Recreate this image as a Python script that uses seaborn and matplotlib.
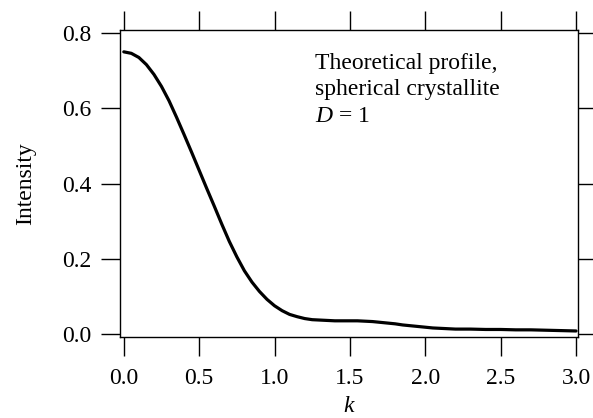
import matplotlib
matplotlib.use("Agg")
import matplotlib.pyplot as plt
import seaborn as sns
import pandas as pd

k_values = [0.00, 0.05, 0.10, 0.15, 0.20, 0.25, 0.30, 0.35, 0.40, 0.45,
            0.50, 0.55, 0.60, 0.65, 0.70, 0.75, 0.80, 0.85, 0.90, 0.95,
            1.00, 1.05, 1.10, 1.15, 1.20, 1.25, 1.30, 1.35, 1.40, 1.45,
            1.50, 1.55, 1.60, 1.65, 1.70, 1.75, 1.80, 1.85, 1.90, 1.95,
            2.00, 2.05, 2.10, 2.15, 2.20, 2.30, 2.40, 2.50, 2.60, 2.70,
            2.80, 2.90, 3.00]
intensity = [0.750, 0.746, 0.735, 0.716, 0.690, 0.658, 0.620, 0.576, 0.530, 0.483,
             0.435, 0.387, 0.340, 0.292, 0.246, 0.205, 0.168, 0.138, 0.113, 0.092,
             0.075, 0.062, 0.052, 0.046, 0.041, 0.038, 0.037, 0.036, 0.035, 0.035,
             0.035, 0.035, 0.034, 0.033, 0.031, 0.029, 0.027, 0.024, 0.022, 0.020,
             0.018, 0.016, 0.015, 0.014, 0.013, 0.013, 0.012, 0.012, 0.011, 0.011,
             0.010, 0.009, 0.008]
x_ticks = [0.0, 0.5, 1.0, 1.5, 2.0, 2.5, 3.0]
y_ticks = [0.0, 0.2, 0.4, 0.6, 0.8]
annotation = "Theoretical profile,\nspherical crystallite\n$D$ = 1"

sns.set_style("ticks")
plt.rcParams['font.family'] = ['Liberation Serif', 'DejaVu Serif']
plt.rcParams['mathtext.fontset'] = 'custom'
plt.rcParams['mathtext.it'] = 'Liberation Serif:italic'
plt.rcParams['mathtext.rm'] = 'Liberation Serif'
plt.rcParams['text.color'] = 'black'
plt.rcParams['axes.labelcolor'] = 'black'

df = pd.DataFrame({"k": k_values, "Intensity": intensity})

fig = plt.figure(figsize=(5.93, 4.18), dpi=100)
ax = fig.add_axes([0.2024, 0.1938, 0.7723, 0.7344])
sns.lineplot(data=df, x="k", y="Intensity", ax=ax, color="black", linewidth=2.3)

ax.set_xlim(-0.025, 3.013)
ax.set_ylim(-0.008, 0.808)
ax.set_xticks(x_ticks)
ax.set_yticks(y_ticks)
ax.set_xticklabels([f"{v:.1f}" for v in x_ticks])
ax.set_yticklabels([f"{v:.1f}" for v in y_ticks])

for s in ax.spines.values():
    s.set_visible(True)
    s.set_linewidth(1.0)
    s.set_color("black")

ax.tick_params(axis='both', which='major', direction='out', length=13.5, width=1.0,
               labelsize=17, colors='black', top=True, right=True)
ax.tick_params(axis='x', pad=9)
ax.tick_params(axis='y', pad=7)

ax.set_xlabel("k", fontsize=17, style='italic', labelpad=5)
ax.set_ylabel("Intensity", fontsize=17, labelpad=19)

ax.text(1.27, 0.748, annotation, fontsize=17, va='top', ha='left', linespacing=1.36,
        color='black')

fig.savefig("out.png", dpi=100)
